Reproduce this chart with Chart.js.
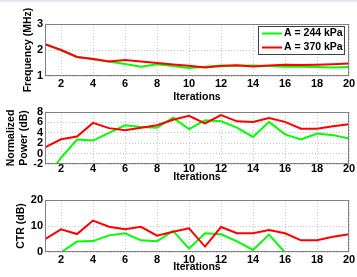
<!DOCTYPE html>
<html>
<head>
<meta charset="utf-8">
<script src="https://cdn.jsdelivr.net/npm/chart.js@4.4.0/dist/chart.umd.min.js"></script>
<style>
  html, body { margin: 0; padding: 0; background: #fff; }
  body { width: 357px; height: 277px; position: relative; overflow: hidden; }
  canvas { position: absolute; left: 0; }
  #topline { position: absolute; left: 0; top: 0; width: 357px; height: 2px; background: #e4e6f0; }
</style>
</head>
<body>
<div id="topline"></div>
<canvas id="chartFreq" width="357" height="107" style="top:0px"></canvas>
<canvas id="chartPower" width="357" height="87" style="top:100px"></canvas>
<canvas id="chartCtr" width="357" height="89" style="top:188px"></canvas>
<script>
// dados
const iterations = [1, 2, 3, 4, 5, 6, 7, 8, 9, 10, 11, 12, 13, 14, 15, 16, 17, 18, 19, 20];
const iterTicks = [2, 4, 6, 8, 10, 12, 14, 16, 18, 20];
const seriesLabels = ["A = 244 kPa", "A = 370 kPa"];

const freq244 = [2.22, 2.0, 1.73, 1.65, 1.56, 1.46, 1.36, 1.45, 1.38, 1.31, 1.36, 1.4, 1.39, 1.4, 1.38, 1.36, 1.36, 1.35, 1.33, 1.35];
const freq370 = [2.22, 2.0, 1.73, 1.65, 1.56, 1.62, 1.56, 1.5, 1.44, 1.39, 1.33, 1.38, 1.41, 1.37, 1.4, 1.43, 1.42, 1.43, 1.45, 1.48];
const freqTicks = [1, 2, 3];

const power244 = [-5, -0.8, 2.7, 2.5, 4.0, 5.45, 5.1, 4.95, 6.9, 4.7, 6.4, 6.2, 5.0, 3.2, 6.1, 3.7, 2.7, 3.85, 3.55, 2.9];
const power370 = [1.2, 2.75, 3.3, 5.9, 4.9, 4.5, 4.95, 5.45, 6.5, 7.25, 5.8, 7.4, 6.2, 6.1, 6.85, 6.1, 4.8, 4.8, 5.25, 5.65];
const powerTicks = [-2, 0, 2, 4, 6, 8];

const ctr244 = [-3, -0.1, 4.0, 4.2, 6.4, 7.2, 4.5, 4.1, 8.1, 1.3, 7.2, 6.8, 4.1, 0.8, 6.7, -0.2, -3, -3, -3, -3];
const ctr370 = [4.9, 8.7, 6.9, 12.1, 9.7, 8.8, 9.7, 6.3, 7.8, 9.1, 2.1, 9.6, 7.2, 7.2, 8.5, 7.2, 4.5, 4.5, 5.9, 6.8];
const ctrTicks = [0, 10, 20];

const GREEN = "#00ff00";
const RED = "#ff0000";
const FONT = "'Liberation Sans', Arial, sans-serif";

// moldura do eixo (estilo MATLAB)
const framePlugin = {
  id: "frame",
  afterDatasetsDraw(chart) {
    const a = chart.chartArea;
    const ctx = chart.ctx;
    ctx.save();
    ctx.strokeStyle = "#808080";
    ctx.lineWidth = 1;
    ctx.strokeRect(Math.round(a.left) + 0.5, Math.round(a.top) + 0.5,
      Math.round(a.right - a.left) - 1, Math.round(a.bottom - a.top) - 1);
    ctx.restore();
  }
};

// legenda dentro do gráfico com caixa
const boxLegendPlugin = {
  id: "boxLegend",
  afterDraw(chart, args, opts) {
    if (!opts.show) return;
    const a = chart.chartArea;
    const ctx = chart.ctx;
    const w = 86, h = 28;
    const x = Math.round(a.right) - 5 - w;
    const y = Math.round(a.top) + 2;
    ctx.save();
    ctx.fillStyle = "#fff";
    ctx.fillRect(x, y, w, h);
    ctx.strokeStyle = "#404040";
    ctx.lineWidth = 1;
    ctx.strokeRect(x + 0.5, y + 0.5, w, h);
    ctx.font = "bold 10.5px " + FONT;
    ctx.textBaseline = "middle";
    ctx.fillStyle = "#000";
    chart.data.datasets.forEach((ds, i) => {
      const ly = y + 7.5 + i * 14;
      ctx.strokeStyle = ds.borderColor;
      ctx.lineWidth = 2;
      ctx.beginPath();
      ctx.moveTo(x + 4, ly);
      ctx.lineTo(x + 24, ly);
      ctx.stroke();
      ctx.fillText(ds.label, x + 26, ly);
    });
    ctx.restore();
  }
};

function toPoints(vals) {
  return iterations.map((it, i) => ({ x: it, y: vals[i] }));
}

function makePanel(canvasId, cfg) {
  const ctx = document.getElementById(canvasId).getContext("2d");
  return new Chart(ctx, {
    type: "line",
    data: {
      datasets: [
        { label: seriesLabels[0], data: toPoints(cfg.green), borderColor: GREEN, borderWidth: 2, pointRadius: 0, order: 1 },
        { label: seriesLabels[1], data: toPoints(cfg.red), borderColor: RED, borderWidth: 2, pointRadius: 0, order: 0 }
      ]
    },
    options: {
      responsive: false,
      animation: false,
      devicePixelRatio: 1,
      layout: { padding: { top: cfg.padTop, right: 8, left: 0, bottom: 0 } },
      scales: {
        x: {
          type: "linear",
          min: 1,
          max: 20,
          afterBuildTicks: (scale) => { scale.ticks = iterTicks.map(v => ({ value: v })); },
          afterFit: (scale) => { scale.height = cfg.xHeight; },
          ticks: { color: "#000", padding: cfg.tickPad, autoSkip: false, maxRotation: 0, font: { family: FONT, size: 11, weight: "bold" } },
          grid: { color: "#c8c8c8", drawTicks: false },
          border: { display: false, dash: [1, 2] },
          title: { display: true, text: "Iterations", color: "#000", padding: { top: 0, bottom: 4 }, font: { family: FONT, size: 10.5, weight: "bold" } }
        },
        y: {
          min: cfg.yTicks[0],
          max: cfg.yTicks[cfg.yTicks.length - 1],
          afterBuildTicks: (scale) => { scale.ticks = cfg.yTicks.map(v => ({ value: v })); },
          afterFit: (scale) => { scale.width = 45; },
          ticks: { color: "#000", padding: 2, autoSkip: false, font: { family: FONT, size: 11, weight: "bold" } },
          grid: { color: "#c8c8c8", drawTicks: false },
          border: { display: false, dash: [1, 2] },
          title: { display: true, text: cfg.yTitle, color: "#000", padding: { top: cfg.titlePad, bottom: 0 }, font: { family: FONT, size: 10.5, weight: "bold", lineHeight: 1.2 } }
        }
      },
      plugins: {
        legend: { display: false },
        tooltip: { enabled: false },
        boxLegend: { show: !!cfg.legend }
      }
    },
    plugins: [framePlugin, boxLegendPlugin]
  });
}

makePanel("chartFreq", {
  green: freq244, red: freq370, yTicks: freqTicks, yTitle: "Frequency (MHz)",
  padTop: 24, xHeight: 31, titlePad: 22, tickPad: 1, legend: true
});

makePanel("chartPower", {
  green: power244, red: power370, yTicks: powerTicks, yTitle: ["Normalized", "Power (dB)"],
  padTop: 12, xHeight: 23, titlePad: 5, tickPad: -1.5
});

makePanel("chartCtr", {
  green: ctr244, red: ctr370, yTicks: ctrTicks, yTitle: "CTR (dB)",
  padTop: 12, xHeight: 25, titlePad: 15, tickPad: 1
});
</script>
</body>
</html>
